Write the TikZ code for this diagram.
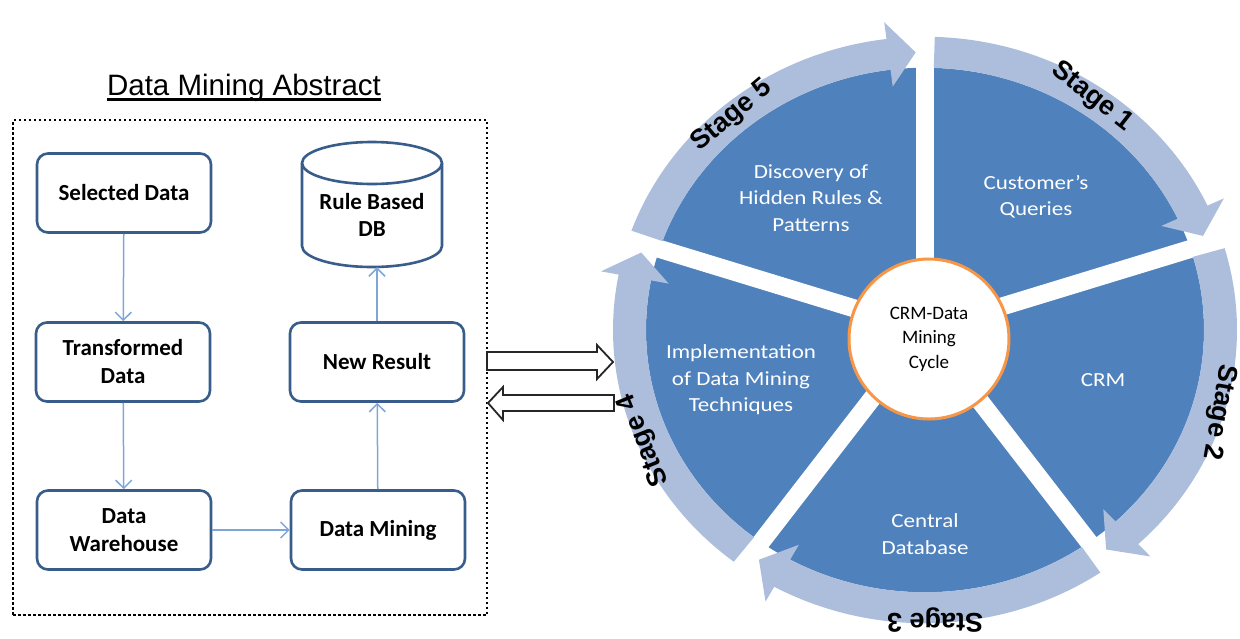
\documentclass[tikz,border=0pt]{standalone}
\usepackage{fontspec}
\setmainfont{Carlito}
\newfontfamily\wfont{Carlito}[FakeStretch=1.15]
\newfontfamily\afont{Liberation Sans}
\usetikzlibrary{arrows.meta}
\definecolor{wedgeblue}{HTML}{4F81BD}
\definecolor{ringblue}{HTML}{ACBEDC}
\definecolor{boxblue}{HTML}{385D8A}
\definecolor{linkblue}{HTML}{7EA6D9}
\definecolor{hubOrange}{HTML}{F79646}
\newcommand{\stagearrow}[2]{%
  \pgfmathsetmacro{\sbase}{#2+5.3}%
  \fill[ringblue] (#1:312) arc[start angle=#1, end angle=\sbase, radius=312]
    -- (\sbase:330) -- (#2:295.5) -- (\sbase:261) -- (\sbase:279)
    arc[start angle=\sbase, end angle=#1, radius=279] -- cycle;}
\begin{document}
\begin{tikzpicture}[x=1pt,y=-1pt,
  lbox/.style={draw=boxblue, line width=2.6pt, rounded corners=11pt, fill=white,
    minimum width=174pt, minimum height=79pt, align=center, inner sep=0pt,
    font=\fontsize{23}{28}\selectfont\bfseries},
  cyl/.style={draw=boxblue, line width=2.6pt, fill=white},
  link/.style={draw=linkblue, line width=1.5pt, -{Straight Barb[length=8pt,width=16pt]}},
  wtext/.style={text=white, align=center, inner sep=0pt, font=\wfont\fontsize{20}{26.5}\selectfont},
  stagelbl/.style={font=\afont\bfseries\fontsize{27}{27}\selectfont, inner sep=0pt},
  blockarrow/.style={draw=black!85, line width=1.8pt, fill=white, line join=miter}
]
\useasboundingbox (0,0) rectangle (1240,638);

% ---------------- cycle ----------------
\coordinate (C) at (925,330);
\begin{scope}[shift={(C)}, x=1pt, y=0.94pt]
  \fill[wedgeblue] (0,0) circle[radius=279];
  \foreach \g in {90,18,-54,-126,162} \draw[white, line width=18pt] (0,0) -- (\g:290);
  \stagearrow{88.2}{19.8}
  \stagearrow{16.2}{-52.2}
  \stagearrow{-55.8}{-124.2}
  \stagearrow{-127.8}{-196.2}
  \stagearrow{160.2}{91.8}
\end{scope}

\node[stagelbl, rotate=-38] (s1) at (1092,97) {Stage 1};
\node[stagelbl, rotate=-100] (s2) at (1219,412) {Stage 2};
\node[stagelbl, rotate=180] (s3) at (935,620) {Stage 3};
\node[stagelbl, rotate=112] (s4) at (644,440) {Stage 4};
\node[stagelbl, rotate=40] (s5) at (732,116) {Stage 5};

\node[circle, draw=hubOrange, line width=3pt, fill=white, minimum size=160pt,
  inner sep=0pt, align=center, font=\fontsize{19}{24.5}\selectfont] (hub) at (929,339)
  {CRM-Data\\Mining\\Cycle};

\node[wtext] (w5) at (811,198) {Discovery of\\Hidden Rules \&\\Patterns};
\node[wtext] (w1) at (1036,197) {Customer’s\\Queries};
\node[wtext] (w2) at (1103,380) {CRM};
\node[wtext] (w3) at (925,534) {Central\\Database};
\node[wtext] (w4) at (741,380) {Implementation\\of Data Mining\\Techniques};

% ---------------- abstract ----------------
\node[anchor=base, inner sep=0pt, font=\afont\fontsize{29.5}{30}\selectfont] (title) at (244,95) {Data Mining Abstract};
\draw[line width=2.4pt] ([yshift=-4.5pt]title.base west) -- ([yshift=-4.5pt]title.base east);

\node[draw, line width=2.5pt, dash pattern=on 2.5pt off 2.5pt, minimum width=474pt,
  minimum height=495pt, inner sep=0pt] (frame) at (250,367.5) {};

\node[lbox] (sel) at (124,193) {Selected Data};
\node[lbox] (trans) at (123,362) {Transformed\\Data};
\node[lbox] (wh) at (124,530) {Data\\Warehouse};
\node[lbox] (dm) at (378,530) {Data Mining};
\node[lbox] (nr) at (377,362) {New Result};

\node[minimum width=140pt, minimum height=125pt, inner sep=0pt] (db) at (372,204.5) {};
\begin{scope}[shift={(db.center)}, x=1pt, y=1pt]
  \draw[cyl] (-70,41.5) -- (-70,-41.5) arc[start angle=180, end angle=360, x radius=70, y radius=21]
    -- (70,41.5) arc[start angle=0, end angle=180, x radius=70, y radius=21] -- cycle;
  \draw[cyl] (-70,41.5) arc[start angle=180, end angle=360, x radius=70, y radius=21];
\end{scope}
\node[align=center, inner sep=0pt, font=\fontsize{23}{27}\selectfont\bfseries] (dbtxt) at (372,215) {Rule Based\\DB};

\draw[link] (sel) -- (trans);
\draw[link] (trans) -- (wh);
\draw[link] (wh) -- (dm);
\draw[link] (dm) -- (nr);
\draw[link] (nr.north) -- (nr.north |- db.south);

% ---------------- block arrows ----------------
\draw[blockarrow] (487,352) -- (597,352) -- (597,345) -- (613,362) -- (597,379) -- (597,370) -- (487,370) -- cycle;
\draw[blockarrow] (614,395) -- (503,395) -- (503,387) -- (488,403) -- (503,420) -- (503,411) -- (614,411) -- cycle;
\end{tikzpicture}
\end{document}
